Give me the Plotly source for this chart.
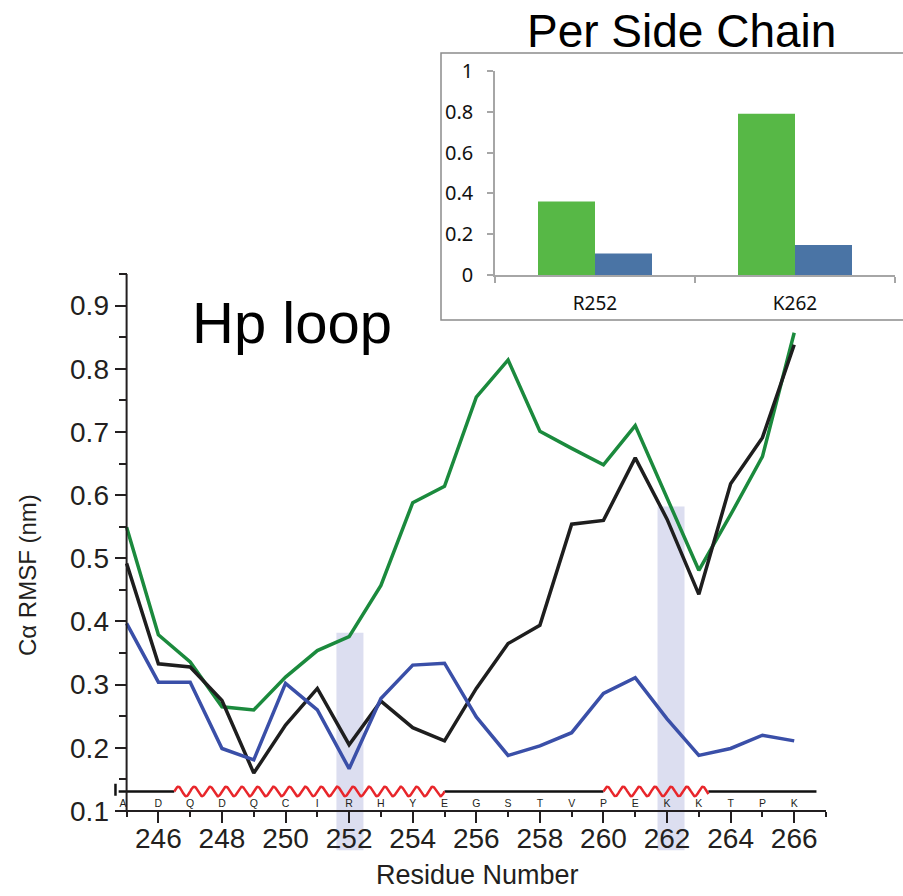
import numpy as np
import plotly.graph_objects as go

# ---- data -------------------------------------------------------------
residues = list(range(245, 267))
sequence = ["A", "D", "Q", "D", "Q", "C", "I", "R", "H", "Y", "E",
            "G", "S", "T", "V", "P", "E", "K", "K", "T", "P", "K"]

rmsf_green = [0.549, 0.379, 0.336, 0.265, 0.260, 0.312, 0.354, 0.376, 0.457, 0.588, 0.614,
              0.755, 0.814, 0.701, 0.674, 0.648, 0.710, 0.595, 0.481, 0.569, 0.661, 0.857]
rmsf_black = [0.492, 0.333, 0.328, 0.275, 0.160, 0.236, 0.294, 0.205, 0.274, 0.232, 0.211,
              0.294, 0.365, 0.394, 0.554, 0.560, 0.659, 0.562, 0.443, 0.618, 0.691, 0.838]
rmsf_blue = [0.397, 0.304, 0.304, 0.199, 0.181, 0.302, 0.260, 0.167, 0.278, 0.331, 0.334,
             0.249, 0.188, 0.203, 0.224, 0.286, 0.311, 0.246, 0.188, 0.199, 0.220, 0.211]

# highlighted residues (R252, K262): x extent and top of the band
highlight_x0 = [251.6, 261.7]
highlight_x1 = [252.45, 262.55]
highlight_top = [0.382, 0.582]

# secondary structure along the sequence
helix_segments = [(246.5, 255.0), (260.0, 263.3)]
coil_segments = [(244.75, 246.5), (255.0, 260.0), (263.3, 266.7)]

# inset: per side chain RMSF
sc_labels = ["R252", "K262"]
sc_green = [0.36, 0.79]
sc_blue = [0.105, 0.147]

x_ticks = list(range(246, 267, 2))
x_minor = list(range(245, 268, 2))
y_ticks = [0.1, 0.2, 0.3, 0.4, 0.5, 0.6, 0.7, 0.8, 0.9]
y_minor = [0.15, 0.25, 0.35, 0.45, 0.55, 0.65, 0.75, 0.85, 0.95]

# ---- geometry ---------------------------------------------------------
W, H = 903, 896
x_range = [244.5, 267.0]
y_range = [0.035, 0.95]
x_dom = [110.7 / W, 826 / W]
y_dom = [1 - 852.1 / H, 1 - 274 / H]
ss_level = 0.131
axis_col = "#231f20"
font_main = "Liberation Sans, Arial, sans-serif"
font_inset = "Noto Sans, Open Sans, sans-serif"


def to_paper_x(v):
    return x_dom[0] + (v - x_range[0]) / (x_range[1] - x_range[0]) * (x_dom[1] - x_dom[0])


def to_paper_y(v):
    return y_dom[0] + (v - y_range[0]) / (y_range[1] - y_range[0]) * (y_dom[1] - y_dom[0])


fig = go.Figure()

# RMSF curves
for vals, col in [(rmsf_green, "#1b8a3d"), (rmsf_black, "#1e1e1e"), (rmsf_blue, "#3a4fa8")]:
    fig.add_trace(go.Scatter(x=residues, y=vals, mode="lines",
                             line=dict(color=col, width=3.5), showlegend=False,
                             hoverinfo="skip", xaxis="x", yaxis="y"))

# coil segments of the secondary-structure bar
for a, b in coil_segments:
    fig.add_trace(go.Scatter(x=[a, b], y=[ss_level, ss_level], mode="lines",
                             line=dict(color="#111111", width=2.5), showlegend=False,
                             hoverinfo="skip"))
# start cap
fig.add_trace(go.Scatter(x=[coil_segments[0][0] - 0.1] * 2, y=[ss_level - 0.007, ss_level + 0.012],
                         mode="lines", line=dict(color="#111111", width=2.5),
                         showlegend=False, hoverinfo="skip"))
# helix segments drawn as a wavy glyph (two turns per residue)
for a, b in helix_segments:
    xs = np.linspace(a, b, 400)
    ys = ss_level + 0.0075 * np.sin(4 * np.pi * (xs - a))
    fig.add_trace(go.Scatter(x=xs, y=ys, mode="lines",
                             line=dict(color="#e8262b", width=2.5), showlegend=False,
                             hoverinfo="skip"))

# one-letter sequence above the axis
fig.add_trace(go.Scatter(x=residues, y=[0.111] * len(residues), mode="text", text=sequence,
                         textposition=["middle left"] + ["middle center"] * (len(residues) - 1),
                         textfont=dict(size=10.5, color=axis_col, family=font_main),
                         showlegend=False, hoverinfo="skip", cliponaxis=False))

# inset bars
fig.add_trace(go.Bar(x=sc_labels, y=sc_green, marker=dict(color="#57b846", line=dict(width=0)),
                     xaxis="x2", yaxis="y2", showlegend=False, hoverinfo="skip"))
fig.add_trace(go.Bar(x=sc_labels, y=sc_blue, marker=dict(color="#4a74a5", line=dict(width=0)),
                     xaxis="x2", yaxis="y2", showlegend=False, hoverinfo="skip"))

shapes = []
for x0, x1, top in zip(highlight_x0, highlight_x1, highlight_top):
    shapes.append(dict(type="rect", xref="x", yref="y", x0=x0, x1=x1, y0=0.038, y1=top,
                       fillcolor="#dcdef0", line=dict(width=0), layer="below"))
# main axis lines
shapes.append(dict(type="line", xref="x", yref="y", x0=245, x1=267, y0=0.1, y1=0.1,
                   line=dict(color=axis_col, width=2)))
shapes.append(dict(type="line", xref="x", yref="y", x0=245, x1=245, y0=0.1, y1=0.95,
                   line=dict(color=axis_col, width=2)))
# inset frame
shapes.append(dict(type="rect", xref="paper", yref="paper", x0=441 / W, x1=1.01,
                   y0=1 - 320 / H, y1=1 - 53 / H, line=dict(color="#8c8c8c", width=1.5),
                   fillcolor="rgba(0,0,0,0)", layer="below"))

annotations = [
    dict(text="Hp loop", xref="paper", yref="paper", x=292 / W, y=1 - 322 / H,
         showarrow=False, xanchor="center", yanchor="middle",
         font=dict(size=58, color="#000000", family=font_main)),
    dict(text="Per Side Chain", xref="paper", yref="paper", x=681 / W, y=1 - 31 / H,
         showarrow=False, xanchor="center", yanchor="middle",
         font=dict(size=46, color="#000000", family=font_main)),
    dict(text="Residue Number", xref="paper", yref="paper", x=477 / W, y=1 - 875 / H,
         showarrow=False, xanchor="center", yanchor="middle",
         font=dict(size=27, color=axis_col, family=font_main)),
    dict(text="Cα RMSF (nm)", xref="paper", yref="paper", x=27 / W, y=1 - 575 / H,
         showarrow=False, xanchor="center", yanchor="middle", textangle=-90,
         font=dict(size=24, color=axis_col, family=font_main)),
]

fig.update_layout(
    width=W, height=H,
    margin=dict(l=0, r=0, t=0, b=0, pad=0, autoexpand=False),
    paper_bgcolor="white", plot_bgcolor="rgba(0,0,0,0)",
    barmode="group", bargap=0.43, bargroupgap=0,
    shapes=shapes, annotations=annotations,
    xaxis=dict(domain=x_dom, range=x_range, anchor="free", position=to_paper_y(0.1),
               showline=False, showgrid=False, zeroline=False, automargin=False,
               tickmode="array", tickvals=x_ticks, ticks="outside", ticklen=11,
               tickwidth=2, tickcolor=axis_col, ticklabelstandoff=-9,
               tickfont=dict(size=28, color=axis_col, family=font_main),
               minor=dict(tickmode="array", tickvals=x_minor, ticks="outside", ticklen=5,
                          tickwidth=2, tickcolor=axis_col)),
    yaxis=dict(domain=y_dom, range=y_range, anchor="free", position=to_paper_x(245),
               showline=False, showgrid=False, zeroline=False, automargin=False,
               tickmode="array", tickvals=y_ticks, ticktext=[f"{v:.1f}" for v in y_ticks],
               ticks="outside", ticklen=12, tickwidth=2, tickcolor=axis_col,
               ticklabelstandoff=0,
               tickfont=dict(size=28, color=axis_col, family=font_main),
               minor=dict(tickmode="array", tickvals=y_minor, ticks="outside", ticklen=8,
                          tickwidth=2, tickcolor=axis_col)),
    xaxis2=dict(domain=[495 / W, 895 / W], anchor="y2", type="category", automargin=False,
                showline=True, linecolor="#a6a6a6", linewidth=1.5,
                ticks="outside", tickson="boundaries", ticklen=6, tickcolor="#a6a6a6",
                tickwidth=1.5, showgrid=False, ticklabelstandoff=10,
                tickfont=dict(size=19, color="#111111", family=font_inset)),
    yaxis2=dict(domain=[1 - 275 / H, 1 - 71 / H], anchor="x2", range=[0, 1], automargin=False,
                tickmode="array", tickvals=[0, 0.2, 0.4, 0.6, 0.8, 1],
                ticktext=["0", "0.2", "0.4", "0.6", "0.8", "1"],
                showline=True, linecolor="#a6a6a6", linewidth=1.5,
                ticks="outside", ticklen=6, tickcolor="#a6a6a6", tickwidth=1.5,
                showgrid=False, zeroline=False, ticklabelstandoff=10,
                tickfont=dict(size=20, color="#111111", family=font_inset)),
)

fig.write_html("out.html")
